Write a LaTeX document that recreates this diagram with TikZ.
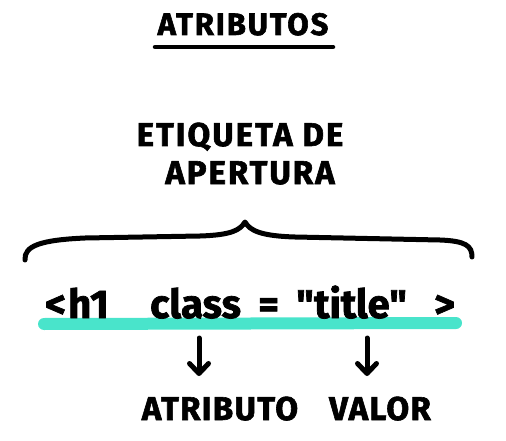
\documentclass[tikz,border=0pt]{standalone}
\usepackage{fontspec}
\setmainfont{Fira Sans}[Ligatures=TeXOff]
\usetikzlibrary{arrows.meta}
\definecolor{hlteal}{HTML}{3FE3C8}
\tikzset{
  hand/.style={font=\fontsize{#1}{#1}\selectfont\bfseries\addfontfeature{FakeBold=1.8}, inner sep=0pt, text=black},
  ink/.style={line width=5pt, line cap=round, line join=round, black},
  downarrow/.style={line width=5pt, line cap=round, -{Straight Barb[length=10pt,width=19pt,line width=5pt,round]}},
}
\begin{document}
\begin{tikzpicture}[x=1pt,y=-1pt]
\useasboundingbox (0,0) rectangle (506,441);
% title
\node[hand=31, anchor=base] (title) at (243,35) {\addfontfeature{LetterSpace=6}ATRIBUTOS};
\draw[ink, line width=4.5pt] (155,47) -- (333,47);
% label above brace
\node[hand=33, anchor=base] (etq) at (240,146) {\addfontfeature{LetterSpace=6}ETIQUETA DE};
\node[hand=33, anchor=base] (ape) at (250,184) {\addfontfeature{LetterSpace=6}APERTURA};
% brace
\draw[ink] (25,260) .. controls (24,246) and (40,240) .. (85,238)
  -- (200,236) .. controls (232,235) and (240,230) .. (245,222)
  .. controls (250,231) and (262,236) .. (295,237)
  -- (440,240) .. controls (466,241) and (472,246) .. (472,257);
% highlight
\draw[hlteal, line width=12pt, line cap=round, opacity=0.95] (44,324) -- (456,323);
% code line
\node[hand=40, anchor=base west] (lt) at (45,318) {<};
\node[hand=40, anchor=base west] (h1) at (68,318) {h1};
\node[hand=40, anchor=base west] (cls) at (150,318) {class};
\node[hand=40, anchor=base west] (eq) at (258,318) {=};
\node[hand=40, anchor=base west] (val) at (296,318) {"title"};
\node[hand=40, anchor=base west] (gt) at (434,318) {>};
% arrows
\coordinate (a1s) at (199,338);
\coordinate (a1e) at (199,376);
\coordinate (a2s) at (367,338);
\coordinate (a2e) at (367,376);
\draw[downarrow] (a1s) -- (a1e);
\draw[downarrow] (a2s) -- (a2e);
% bottom labels
\node[hand=33, anchor=base] (atr) at (220,420) {\addfontfeature{LetterSpace=4}ATRIBUTO};
\node[hand=33, anchor=base] (vlr) at (380,420) {\addfontfeature{LetterSpace=4}VALOR};
\end{tikzpicture}
\end{document}
